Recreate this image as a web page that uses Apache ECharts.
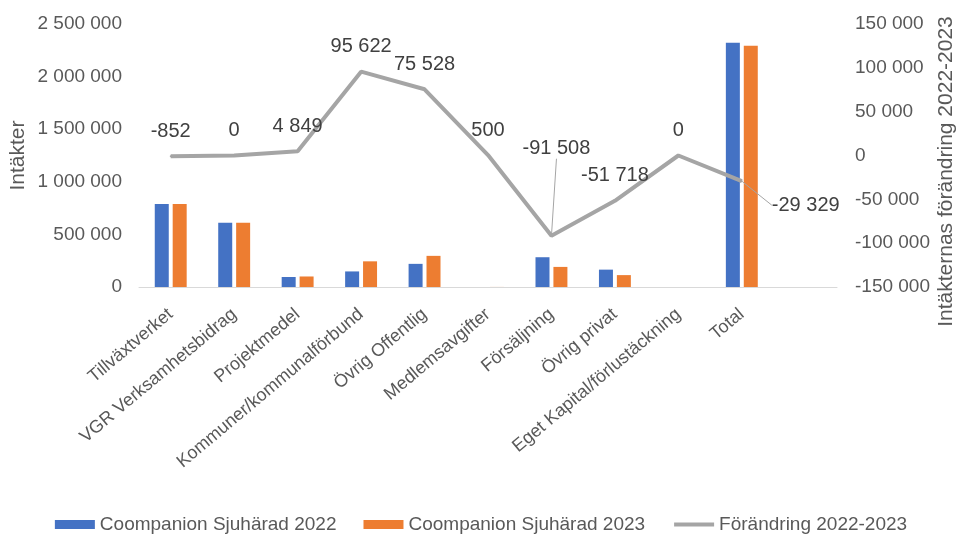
<!DOCTYPE html>
<html>
<head>
<meta charset="utf-8">
<script src="https://cdn.jsdelivr.net/npm/echarts@6/dist/echarts.min.js"></script>
<style>
  html, body { margin: 0; padding: 0; background: #fff; }
  #chart { width: 962px; height: 536px; }
</style>
</head>
<body>
<div id="chart"></div>
<script>
// categories (last one is an empty slot, as in the original chart)
const categories = [
  "Tillväxtverket", "VGR Verksamhetsbidrag", "Projektmedel",
  "Kommuner/kommunalförbund", "Övrig Offentlig", "Medlemsavgifter",
  "Försäljning", "Övrig privat", "Eget Kapital/förlustäckning", "Total", ""
];
const values2022 = [789000, 611000, 95000, 148000, 220000, 0, 283000, 165000, 0, 2322000];
const values2023 = [788000, 611000, 100000, 244000, 296000, 500, 191000, 113000, 0, 2293000];
const change = [-852, 0, 4849, 95622, 75528, 500, -91508, -51718, 0, -29329];

const font = "'Liberation Sans', Arial, sans-serif";

function fmt(v) {
  let s = Math.abs(Math.round(v)).toString().replace(/\B(?=(\d{3})+(?!\d))/g, " ");
  return (v < 0 ? "-" : "") + s;
}

let lineData = change.map((v, i) => {
  let item = { value: v };
  if (i === 6 || i === 9) {
    item.labelLine = { show: true, lineStyle: { color: "#A5A5A5", width: 1 } };
  }
  if (i === 9) {
    item.label = { position: "right", distance: 6 };
  }
  return item;
});

let myChart = echarts.init(document.getElementById("chart"));
let option = {
  animation: false,
  textStyle: { fontFamily: font },
  grid: { left: 139, right: 125, top: 24, bottom: 249, outerBoundsMode: "none" },
  legend: {
    bottom: -3,
    left: "center",
    itemWidth: 40,
    itemHeight: 9,
    itemGap: 27,
    textStyle: { fontSize: 19, color: "#595959", fontFamily: font },
    data: [
      { name: "Coompanion Sjuhärad 2022", icon: "rect" },
      { name: "Coompanion Sjuhärad 2023", icon: "rect" },
      { name: "Förändring 2022-2023", itemStyle: { opacity: 0 }, lineStyle: { width: 4 } },
    ],
  },
  xAxis: {
    type: "category",
    data: categories,
    axisLine: { lineStyle: { color: "#D9D9D9", width: 1 } },
    axisTick: { show: false },
    axisLabel: {
      interval: 0,
      rotate: 40,
      margin: 25,
      fontSize: 18,
      color: "#595959",
      fontFamily: font,
    },
  },
  yAxis: [
    {
      type: "value",
      min: 0,
      max: 2500000,
      interval: 500000,
      name: "Intäkter",
      nameLocation: "middle",
      nameGap: 110,
      nameMoveOverlap: false,
      nameTextStyle: { fontSize: 21, color: "#595959", fontFamily: font },
      splitLine: { show: false },
      axisLine: { show: false },
      axisTick: { show: false },
      axisLabel: { fontSize: 19, color: "#595959", margin: 17, formatter: fmt },
    },
    {
      type: "value",
      min: -150000,
      max: 150000,
      interval: 50000,
      name: "Intäkternas förändring 2022-2023",
      nameLocation: "middle",
      nameGap: 99,
      nameMoveOverlap: false,
      nameTextStyle: { fontSize: 21, color: "#595959", fontFamily: font, padding: [0, 32, 0, 0] },
      splitLine: { show: false },
      axisLine: { show: false },
      axisTick: { show: false },
      axisLabel: { fontSize: 19, color: "#595959", margin: 18, formatter: fmt },
    },
  ],
  series: [
    {
      name: "Coompanion Sjuhärad 2022",
      type: "bar",
      data: values2022,
      barWidth: 14,
      barGap: "28%",
      itemStyle: { color: "#4472C4" },
    },
    {
      name: "Coompanion Sjuhärad 2023",
      type: "bar",
      data: values2023,
      barWidth: 14,
      barGap: "28%",
      itemStyle: { color: "#ED7D31" },
    },
    {
      name: "Förändring 2022-2023",
      type: "line",
      yAxisIndex: 1,
      data: lineData,
      symbol: "circle",
      symbolSize: 2,
      z: 5,
      lineStyle: { color: "#A5A5A5", width: 4 },
      itemStyle: { color: "#A5A5A5" },
      label: {
        show: true,
        position: "top",
        distance: 14,
        fontSize: 20,
        color: "#404040",
        fontFamily: font,
        formatter: (p) => fmt(p.value),
      },
      labelLayout: function (params) {
        if (params.dataIndex === 6) return { dx: 5, dy: -62 };
        if (params.dataIndex === 9) return { dx: 23, dy: 24 };
        return {};
      },
    },
  ],
};
myChart.setOption(option);
</script>
</body>
</html>
